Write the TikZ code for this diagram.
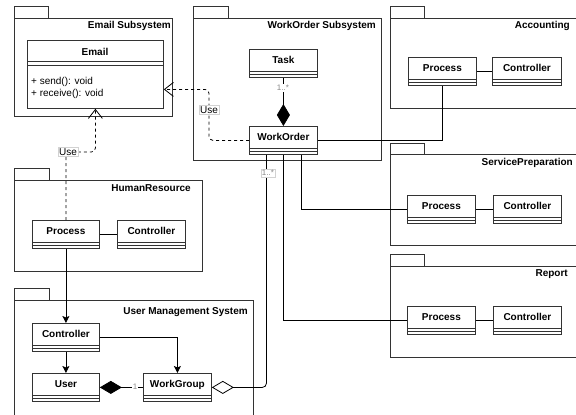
\documentclass[tikz,border=0pt]{standalone}
\usepackage{fontspec}
\setmainfont{Liberation Sans}
\usetikzlibrary{arrows.meta,calc}
\definecolor{linec}{HTML}{333333}
\definecolor{mult}{HTML}{888888}
\newcommand{\clsfont}{\fontsize{10}{12}\selectfont\bfseries}
\newcommand{\memfont}{\fontsize{10}{12}\selectfont}
\newcommand{\smallfont}{\fontsize{8}{9}\selectfont}
\tikzset{
  cls/.style={draw=linec, line width=0.8pt, fill=white, minimum width=68pt, minimum height=28pt,
    anchor=north west, inner sep=0pt, text height=7pt, text depth=6pt, font=\clsfont,
    path picture={
      \draw[linec, line width=0.8pt] ([yshift=-22pt]path picture bounding box.north west) -- ([yshift=-22pt]path picture bounding box.north east);
      \draw[linec, line width=0.8pt] ([yshift=-25pt]path picture bounding box.north west) -- ([yshift=-25pt]path picture bounding box.north east);
    }},
  pkg/.style={draw=linec, line width=0.8pt},
  pkgtitle/.style={anchor=east, font=\clsfont, inner sep=0pt},
  conn/.style={draw=black, line width=0.8pt},
  dep/.style={conn, dash pattern=on 3pt off 3pt, rounded corners=4pt, -{Straight Barb[length=9pt,width=14pt]}},
  nav/.style={conn, -{Stealth[length=7pt,width=7pt,inset=1.5pt]}},
  comp/.style={conn, {Diamond[length=22pt,width=13pt]}-},
  agg/.style={conn, rounded corners=4pt, {Diamond[open,length=22pt,width=13pt,fill=white]}-},
  lbl/.style={font=\memfont, fill=white, draw=gray!35, inner sep=1pt, line width=0.4pt},
  mlbl/.style={font=\smallfont, text=mult, fill=white, inner sep=1pt},
}
\begin{document}
\begin{tikzpicture}[x=1pt,y=-1pt]
\useasboundingbox (0,0) rectangle (576,415);
\clip (0,0) rectangle (576,415);
\fill[white] (0,0) rectangle (576,415);

% ---------- packages ----------
% Email Subsystem
\draw[pkg] (14,6) rectangle (48,18);
\draw[pkg] (14,18) rectangle (172,116);
\node[pkgtitle] (tEmail) at (171,26) {Email Subsystem};
% WorkOrder Subsystem
\draw[pkg] (193,6) rectangle (228,18);
\draw[pkg] (193,18) rectangle (381,160);
\node[pkgtitle] (tWO) at (376,26) {WorkOrder Subsystem};
% Accounting
\draw[pkg] (390,6) rectangle (424,18);
\draw[pkg] (390,18) rectangle (600,108);
\node[pkgtitle] (tAcc) at (570,26) {Accounting};
% ServicePreparation
\draw[pkg] (390,143) rectangle (424,154);
\draw[pkg] (390,154) rectangle (600,245);
\node[pkgtitle] (tSP) at (573,163) {ServicePreparation};
% Report
\draw[pkg] (390,254) rectangle (424,266);
\draw[pkg] (390,266) rectangle (600,357);
\node[pkgtitle] (tRep) at (568,274) {Report};
% HumanResource
\draw[pkg] (14,168) rectangle (49,180);
\draw[pkg] (14,180) rectangle (202,271);
\node[pkgtitle] (tHR) at (191,188) {HumanResource};
% User Management System
\draw[pkg] (14,288) rectangle (49,300);
\draw[pkg] (14,300) rectangle (253,440);
\node[pkgtitle] (tUMS) at (248,312) {User Management System};

% ---------- classes ----------
\node[draw=linec, line width=0.8pt, fill=white, anchor=north west, minimum width=136pt, minimum height=68pt, inner sep=0pt] (email) at (27,40) {};
\draw[linec, line width=0.8pt] (27,61.7) -- (163,61.7);
\draw[linec, line width=0.8pt] (27,65.7) -- (163,65.7);
\node[font=\clsfont, inner sep=0pt] (emailT) at (95,51.5) {Email};
\node[font=\memfont, anchor=base west, inner sep=0pt] (emailM1) at (31,84) {+ send(): void};
\node[font=\memfont, anchor=base west, inner sep=0pt] (emailM2) at (31,96) {+ receive(): void};

\node[cls] (task) at (249,49) {Task};
\node[cls] (wo) at (249,126) {WorkOrder};

\node[cls] (accP) at (408,57) {Process};
\node[cls, minimum width=69pt] (accC) at (492,57) {Controller};
\node[cls] (spP) at (407,195) {Process};
\node[cls] (spC) at (493,195) {Controller};
\node[cls] (repP) at (407,306) {Process};
\node[cls] (repC) at (493,306) {Controller};

\node[cls, minimum width=67pt] (hrP) at (32,220) {Process};
\node[cls] (hrC) at (117,220) {Controller};

\node[cls, minimum width=67pt] (umsC) at (32,323) {Controller};
\node[cls, minimum width=67pt] (user) at (32,373) {User};
\node[cls] (wg) at (143,373) {WorkGroup};

% ---------- connectors ----------
\draw[conn] (accP.east) -- (accC.west);
\draw[conn] (spP.east) -- (spC.west);
\draw[conn] (repP.east) -- (repC.west);
\draw[conn] (hrP.east) -- (hrC.west);

\draw[dep] (wo.west) -- ++(-40,0) |- ([yshift=-15pt]email.east);
\node[lbl] (use1) at (209,110) {Use};

\draw[dep] (hrP.north) -- ++(0,-68) -| (email.south);
\node[lbl] (use2) at (68,152) {Use};

\draw[comp] (wo.north) -- (task.south);
\node[mlbl] (m1) at (283,88) {1..*};

\draw[conn] (wo.east) -| (accP.south);
\draw[conn] ([xshift=18pt]wo.south) |- (spP.west);
\draw[conn] (wo.south) |- (repP.west);

\draw[agg] (wg.east) -| ([xshift=-17pt]wo.south);
\node[mlbl, draw=gray!35, line width=0.4pt] (m2) at (268,173) {1..*};

\draw[nav] (hrP.south) -- (umsC.north);
\draw[nav] (umsC.south) -- (user.north);
\draw[nav] (umsC.east) -| (wg.north);

\draw[comp] (user.east) -- (wg.west);
\node[mlbl] (m3) at (135,387) {1};
\end{tikzpicture}
\end{document}
